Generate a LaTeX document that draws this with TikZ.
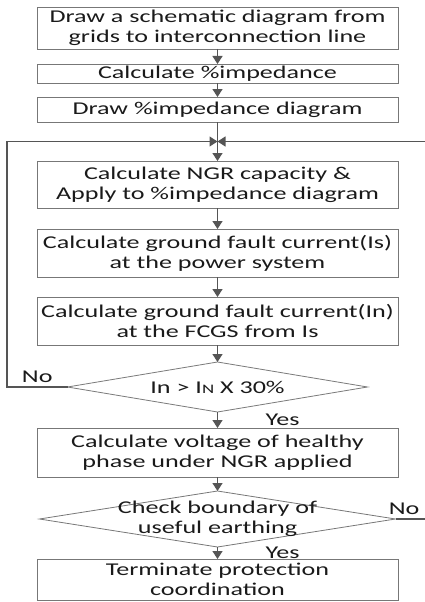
\documentclass[tikz,border=0pt]{standalone}
\usepackage{fontspec}
\setmainfont[FakeStretch=1.45]{Carlito}
\usetikzlibrary{positioning,shapes.geometric,arrows.meta}
\definecolor{boxline}{HTML}{777777}
\definecolor{flowline}{HTML}{555555}
\definecolor{ink}{HTML}{1A1A1A}

\begin{document}
\begin{tikzpicture}[x=1pt,y=-1pt,font=\fontsize{18}{20}\selectfont,text=ink,
	box/.style={draw=boxline,line width=0.8pt,minimum width=361pt,inner xsep=0pt,inner ysep=0pt,outer sep=0pt,align=center},
	test/.style={diamond,draw=boxline,line width=0.8pt,inner sep=0pt,outer sep=0pt},
	flow/.style={draw=flowline,line width=1.4pt,-{Triangle[length=8pt,width=10pt]}},
	back/.style={draw=flowline,line width=1.2pt,-{Triangle[length=8pt,width=10pt]}}]
		\useasboundingbox (0,0) rectangle (424,602);
		\node[box,minimum height=42pt] at (217.5,28)							(1)		{Draw a schematic diagram from\\grids to interconnection line};
		\node[box,minimum height=19pt,node distance=15pt,below=of 1]				(2)		{Calculate \%impedance};
		\node[box,minimum height=25pt,node distance=14pt,below=of 2]				(3)		{Draw \%impedance diagram};
		\node[box,minimum height=47pt,node distance=39pt,below=of 3]				(4)		{Calculate NGR capacity \&\\Apply to \%impedance diagram};
		\node[box,minimum height=48pt,node distance=21pt,below=of 4]				(5)		{Calculate ground fault current(Is)\\at the power system};
		\node[box,minimum height=48pt,node distance=20pt,below=of 5]				(6)		{Calculate ground fault current(In)\\at the FCGS from Is};
		\node[test,minimum width=300pt,minimum height=50pt,node distance=17pt,below=of 6,
			label={center:In > I{\fontsize{13}{13}\selectfont N} X 30\%}]		(7)		{};
		\node[box,minimum height=49pt,node distance=16pt,below=of 7]				(8)		{Calculate voltage of healthy\\phase under NGR applied};
		\node[test,minimum width=356pt,minimum height=56pt,node distance=14pt,below=of 8,
			label={[align=center]center:Check boundary of\\useful earthing}]		(9)		{};
		\node[box,minimum height=41pt,node distance=12pt,below=of 9]				(10)	{Terminate protection\\coordination};

		\coordinate (l) at (7,141.5);
		\coordinate (r) at (430,141.5);
		\path (3) -- coordinate[midway] (j) (4);

		\draw[flow] (1) -- (2);
		\draw[flow] (2) -- (3);
		\draw[flow] (3) -- (4);
		\draw[flow] (4) -- (5);
		\draw[flow] (5) -- (6);
		\draw[flow] (6) -- (7);
		\draw[flow] (7) -- node[right=44pt] {Yes} (8);
		\draw[flow] (8) -- (9);
		\draw[flow] (9) -- node[right=44pt] {Yes} (10);
		\draw[back] (7.west) -- node[above] {No} (7.west -| l) |- (j);
		\draw[back] (9.east) -- node[pos=.25,above] {No} (9.east -| r) |- (j);
	\end{tikzpicture}
\end{document}
